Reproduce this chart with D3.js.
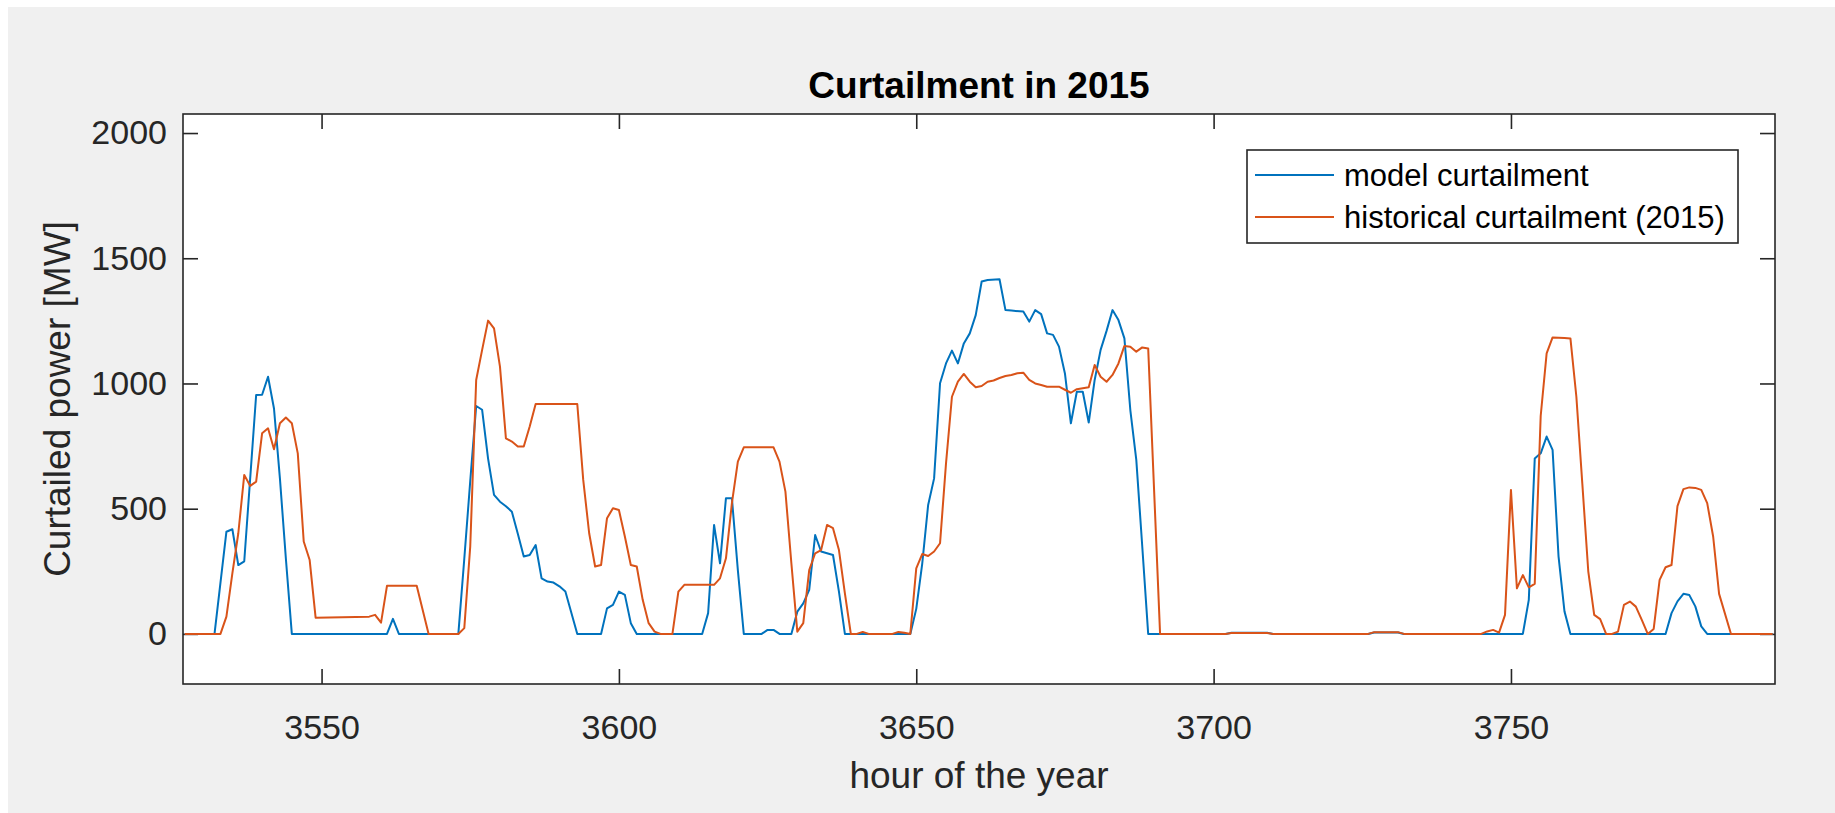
<!DOCTYPE html>
<html>
<head>
<meta charset="utf-8">
<script src="https://cdn.jsdelivr.net/npm/d3@7"></script>
<style>
  body { margin: 0; background: #f0f0f0; overflow: hidden; }
  svg text { font-family: "Liberation Sans", Arial, Helvetica, sans-serif; }
</style>
</head>
<body>
<svg id="chart" width="1835" height="813"></svg>
<script>
// values: [hour, MW]
var modelCurtailment = [
  [3527,0],[3532,0],[3534,408],[3535,418],[3536,275],[3537,290],[3539,954],[3540,955],[3541,1027],
  [3542,900],[3543,620],[3544,300],[3545,0],
  [3561,0],[3562,60],[3563,0],
  [3573,0],[3574,300],[3575,610],[3576,910],[3577,895],[3578,700],[3579,555],[3580,528],[3581,510],
  [3582,488],[3583,400],[3584,309],[3585,315],[3586,355],[3587,222],[3588,209],[3589,205],[3590,190],
  [3591,169],[3593,0],
  [3597,0],[3598,102],[3599,116],[3600,169],[3601,156],[3602,43],[3603,0],
  [3614,0],[3615,83],[3616,435],[3617,282],[3618,542],[3619,542],[3620,255],[3621,0],
  [3624,0],[3625,16],[3626,16],[3627,0],
  [3629,0],[3630,89],[3631,122],[3632,176],[3633,395],[3634,329],[3635,322],[3636,315],[3637,169],[3638,0],
  [3649,0],[3650,100],[3651,280],[3652,515],[3653,621],[3654,1001],[3655,1080],[3656,1131],[3657,1080],
  [3658,1160],[3659,1200],[3660,1273],[3661,1407],[3662,1413],[3664,1416],[3665,1293],[3666,1291],
  [3668,1287],[3669,1247],[3670,1293],[3671,1277],[3672,1200],[3673,1194],[3674,1147],[3675,1040],
  [3676,841],[3677,967],[3678,967],[3679,844],[3680,1014],[3681,1134],[3682,1210],[3683,1293],
  [3684,1253],[3685,1180],[3686,893],[3687,695],[3688,350],[3689,0],
  [3702,0],[3703,5],[3709,5],[3710,0],
  [3726,0],[3727,6],[3731,6],[3732,0],
  [3752,0],[3753,136],[3754,700],[3755,721],[3756,788],[3757,735],[3758,310],[3759,90],[3760,0],
  [3776,0],[3777,83],[3778,130],[3779,160],[3780,155],[3781,110],[3782,30],[3783,0],[3794,0]
];

var historicalCurtailment = [
  [3527,0],[3533,0],[3534,69],[3535,242],[3536,402],[3537,635],[3538,591],[3539,608],[3540,801],
  [3541,821],[3542,737],[3543,841],[3544,864],[3545,841],[3546,721],[3547,369],[3548,295],[3549,65],
  [3558,69],[3559,76],[3560,45],[3561,192],[3566,192],[3568,0],
  [3573,0],[3574,23],[3575,349],[3576,1014],[3577,1134],[3578,1251],[3579,1220],[3580,1067],[3581,781],
  [3582,768],[3583,748],[3584,748],[3585,828],[3586,918],[3593,918],[3594,615],[3595,402],[3596,269],
  [3597,275],[3598,462],[3599,502],[3600,495],[3601,389],[3602,275],[3603,269],[3604,136],[3605,43],
  [3606,9],[3607,0],[3609,0],[3610,169],[3611,196],[3616,196],[3617,222],[3618,302],[3619,522],
  [3620,688],[3621,745],[3626,745],[3627,688],[3628,568],[3629,282],[3630,9],[3631,43],[3632,255],
  [3633,322],[3634,335],[3635,435],[3636,422],[3637,335],[3638,162],[3639,0],[3640,0],[3641,8],[3642,0],
  [3646,0],[3647,8],[3648,5],[3649,0],[3650,262],[3651,319],[3652,311],[3653,329],[3654,362],[3655,680],
  [3656,947],[3657,1007],[3658,1038],[3659,1007],[3660,985],[3661,990],[3662,1007],[3663,1012],
  [3664,1022],[3665,1030],[3666,1034],[3667,1041],[3668,1043],[3669,1014],[3670,1000],[3671,994],
  [3672,987],[3674,987],[3675,975],[3676,963],[3677,977],[3679,985],[3680,1074],[3681,1027],[3682,1007],
  [3683,1034],[3684,1080],[3685,1150],[3686,1147],[3687,1127],[3688,1144],[3689,1140],[3691,0],
  [3702,0],[3703,4],[3709,4],[3710,0],
  [3726,0],[3727,7],[3731,7],[3732,0],
  [3745,0],[3746,10],[3747,16],[3748,5],[3749,76],[3750,575],[3751,182],[3752,235],[3753,186],
  [3754,200],[3755,870],[3756,1120],[3757,1184],[3759,1182],[3760,1180],[3761,947],[3762,600],
  [3763,250],[3764,76],[3765,59],[3766,0],[3767,0],[3768,9],[3769,116],[3770,129],[3771,109],
  [3772,56],[3773,0],[3774,20],[3775,216],[3776,266],[3777,275],[3778,510],[3779,578],[3780,585],
  [3781,583],[3782,575],[3783,522],[3784,389],[3785,160],[3787,0],[3794,0]
];

var seriesNames = ["model curtailment", "historical curtailment (2015)"];
var xTicks = [3550, 3600, 3650, 3700, 3750];
var yTicks = [0, 500, 1000, 1500, 2000];

// layout (pixels of the 1835x813 window)
const plot = {left: 183, right: 1775, top: 114, bottom: 684};
const colors = ["#0072BD", "#D95319"];
const axisColor = "#262626";

const svg = d3.select("#chart");

// white strip along the top and left edge of the screenshot
svg.append("rect").attr("x", 0).attr("y", 0).attr("width", 1835).attr("height", 7).attr("fill", "#fff");
svg.append("rect").attr("x", 0).attr("y", 0).attr("width", 8).attr("height", 813).attr("fill", "#fff");

// plot area
svg.append("rect")
  .attr("x", plot.left).attr("y", plot.top)
  .attr("width", plot.right - plot.left).attr("height", plot.bottom - plot.top)
  .attr("fill", "#fff");

const x = d3.scaleLinear().domain([3526.7, 3794.4]).range([plot.left, plot.right]);
const y = d3.scaleLinear().domain([-200, 2076]).range([plot.bottom, plot.top]);

function styleAxis(g, labels) {
  g.select(".domain").remove();
  g.selectAll(".tick line").attr("stroke", axisColor).attr("stroke-width", 1.6);
  g.selectAll(".tick text")
    .attr("fill", axisColor)
    .attr("font-size", 34)
    .attr("font-family", '"Liberation Sans", Arial, Helvetica, sans-serif');
  if (!labels) g.selectAll(".tick text").remove();
}

// ticks point inward on all four sides (box on)
svg.append("g").attr("transform", `translate(0,${plot.bottom})`)
  .call(d3.axisBottom(x).tickValues(xTicks).tickFormat(d3.format("d"))
    .tickSizeInner(-15).tickSizeOuter(0).tickPadding(31))
  .call(g => styleAxis(g, true));
svg.append("g").attr("transform", `translate(0,${plot.top})`)
  .call(d3.axisTop(x).tickValues(xTicks).tickSizeInner(-15).tickSizeOuter(0))
  .call(g => styleAxis(g, false));
svg.append("g").attr("transform", `translate(${plot.left},0)`)
  .call(d3.axisLeft(y).tickValues(yTicks).tickFormat(d3.format("d"))
    .tickSizeInner(-15).tickSizeOuter(0).tickPadding(16))
  .call(g => styleAxis(g, true));
svg.append("g").attr("transform", `translate(${plot.right},0)`)
  .call(d3.axisRight(y).tickValues(yTicks).tickSizeInner(-15).tickSizeOuter(0))
  .call(g => styleAxis(g, false));

// curves
const line = d3.line().x(d => x(d[0])).y(d => y(d[1]));
[modelCurtailment, historicalCurtailment].forEach((data, i) => {
  svg.append("path")
    .datum(data)
    .attr("fill", "none")
    .attr("stroke", colors[i])
    .attr("stroke-width", 2)
    .attr("stroke-linejoin", "round")
    .attr("d", line);
});

// box
svg.append("rect")
  .attr("x", plot.left).attr("y", plot.top)
  .attr("width", plot.right - plot.left).attr("height", plot.bottom - plot.top)
  .attr("fill", "none").attr("stroke", axisColor).attr("stroke-width", 1.6);

// title and labels
svg.append("text")
  .attr("x", (plot.left + plot.right) / 2).attr("y", 98)
  .attr("text-anchor", "middle").attr("font-size", 37).attr("font-weight", "bold")
  .attr("fill", "#000")
  .text("Curtailment in 2015");

svg.append("text")
  .attr("x", (plot.left + plot.right) / 2).attr("y", 788)
  .attr("text-anchor", "middle").attr("font-size", 37).attr("fill", axisColor)
  .text("hour of the year");

svg.append("text")
  .attr("transform", `translate(70,${(plot.top + plot.bottom) / 2}) rotate(-90)`)
  .attr("text-anchor", "middle").attr("font-size", 37).attr("fill", axisColor)
  .text("Curtailed power [MW]");

// legend
const legend = svg.append("g");
legend.append("rect")
  .attr("x", 1247).attr("y", 150).attr("width", 491).attr("height", 93)
  .attr("fill", "#fff").attr("stroke", axisColor).attr("stroke-width", 1.6);
seriesNames.forEach((name, i) => {
  const ly = 175 + i * 42;
  legend.append("line")
    .attr("x1", 1255).attr("x2", 1334).attr("y1", ly).attr("y2", ly)
    .attr("stroke", colors[i]).attr("stroke-width", 2);
  legend.append("text")
    .attr("x", 1344).attr("y", ly + 11)
    .attr("font-size", 31).attr("fill", "#000")
    .text(name);
});
</script>
</body>
</html>
